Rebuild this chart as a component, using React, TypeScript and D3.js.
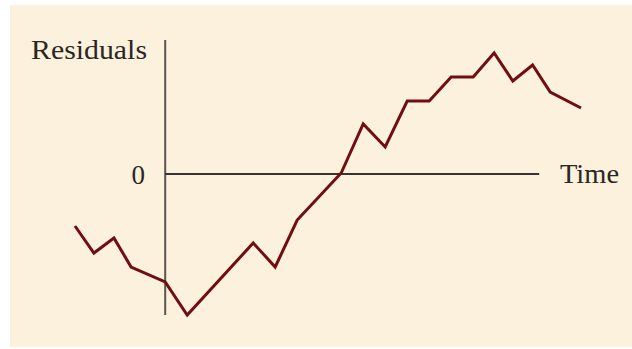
import React from "react";
import * as d3 from "d3";

// Time index (arbitrary units) and residual values
const times: number[] = [0, 0.86, 1.77, 2.55, 4.1, 5.1, 8.1, 9.1, 10.1, 12.1, 13.1, 14.1, 15.1, 16.1, 17.1, 18.1, 19.05, 19.9, 20.8, 21.6, 23.0];
const residuals: number[] = [-5.2, -7.9, -6.4, -9.3, -10.8, -14.1, -6.9, -9.3, -4.6, 0.1, 5.0, 2.7, 7.3, 7.3, 9.7, 9.7, 12.1, 9.3, 10.9, 8.2, 6.6];
const axisOriginTime = 4.1;
const axisEndTime = 21.1;
const yAxisTop = 13.4;
const yAxisBottom = -14.1;
const yLabel = "Residuals";
const xLabel = "Time";
const zeroLabel = "0";

const W = 632;
const H = 349;

export default function App() {
  const x = d3.scaleLinear().domain([0, 23]).range([75, 581]);
  const y = d3.scaleLinear().domain([-14.1, 13.4]).range([315, 40]);
  const data = times.map((t, i) => [t, residuals[i]] as [number, number]);
  const line = d3
    .line<[number, number]>()
    .x((d) => x(d[0]))
    .y((d) => y(d[1]));
  const font = "'Liberation Serif', 'DejaVu Serif', serif";
  return (
    <svg
      width={W}
      height={H}
      style={{ position: "absolute", left: 0, top: 0, display: "block" }}
    >
      <rect x={0} y={0} width={W} height={H} fill="#ffffff" />
      <rect x={10} y={5} width={W - 10} height={342} fill="#fcf1dc" />
      <line
        x1={x(axisOriginTime)}
        x2={x(axisOriginTime)}
        y1={y(yAxisTop)}
        y2={y(yAxisBottom)}
        stroke="#5a5550"
        strokeWidth={2}
      />
      <line
        x1={x(axisOriginTime)}
        x2={x(axisEndTime)}
        y1={y(0)}
        y2={y(0)}
        stroke="#3a3532"
        strokeWidth={1.8}
      />
      <path
        d={line(data) || ""}
        fill="none"
        stroke="#700e12"
        strokeWidth={3}
        strokeLinejoin="miter"
      />
      <text x={31} y={59} fontFamily={font} fontSize={28} fill="#2a2624" textLength={116} lengthAdjust="spacingAndGlyphs">
        {yLabel}
      </text>
      <text
        x={145}
        y={y(0) + 10}
        fontFamily={font}
        fontSize={27}
        fill="#2a2624"
        textAnchor="end"
      >
        {zeroLabel}
      </text>
      <text x={560} y={y(0) + 9} fontFamily={font} fontSize={28} fill="#2a2624" textLength={59} lengthAdjust="spacingAndGlyphs">
        {xLabel}
      </text>
    </svg>
  );
}
